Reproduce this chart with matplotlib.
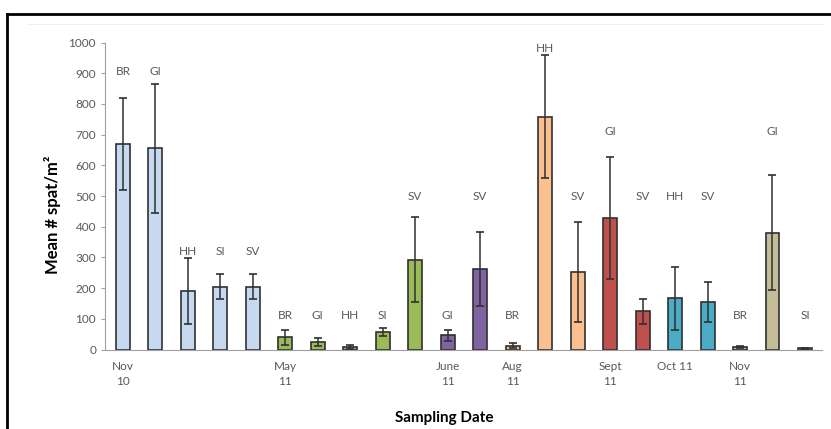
import numpy as np
import matplotlib
matplotlib.use('Agg')
import matplotlib.pyplot as plt
from matplotlib.lines import Line2D

plt.rcParams['font.family'] = ['Lato', 'DejaVu Sans']

# Site codes per bar (in sampling order)
sites = ['BR', 'GI', 'HH', 'SI', 'SV',
         'BR', 'GI', 'HH', 'SI', 'SV',
         'GI', 'SV',
         'BR', 'HH', 'SV',
         'GI', 'SV',
         'HH', 'SV',
         'BR', 'GI', 'SI']
means = [668, 655, 190, 205, 205,
         40, 26, 8, 57, 293,
         46, 262,
         13, 758, 253,
         428, 124,
         167, 155,
         7, 381, 4]
errors = [150, 210, 108, 40, 40,
          24, 13, 6, 12, 138,
          19, 120,
          9, 200, 162,
          199, 41,
          103, 65,
          3, 188, 2]
# sampling period of each bar -> colour group
groups = ['Nov10'] * 5 + ['May11'] * 5 + ['June11'] * 2 + ['Aug11'] * 3 + \
         ['Sept11'] * 2 + ['Oct11'] * 2 + ['Nov11'] * 3
group_colors = {'Nov10': '#c6d9f1', 'May11': '#9bbb59', 'June11': '#8064a2',
                'Aug11': '#fac090', 'Sept11': '#c0504d', 'Oct11': '#4bacc6',
                'Nov11': '#c4bd97'}
# height at which the site label sits (data units)
label_heights = [906, 906, 320, 320, 320,
                 112, 112, 112, 112, 500,
                 112, 500,
                 112, 982, 500,
                 709, 500,
                 500, 500,
                 112, 709, 112]
# date labels and the bar they sit under
date_labels = ['Nov\n10', 'May\n11', 'June\n11', 'Aug\n11', 'Sept\n11', 'Oct 11', 'Nov\n11']
date_bars = [0, 5, 10, 12, 15, 17, 19]

fig = plt.figure(figsize=(8.31, 4.29), dpi=100)
ax = fig.add_axes([0.1264, 0.1853, 0.8626, 0.7156])

x = np.arange(len(means))
colors = [group_colors[g] for g in groups]
ax.bar(x, means, width=0.43, color=colors, edgecolor='#303030', linewidth=1.2,
       yerr=errors, error_kw=dict(ecolor='#303030', elinewidth=1.1, capsize=3, capthick=1.2))

tc = '#595959'
for xi, s, h in zip(x, sites, label_heights):
    ax.text(xi, h, s, ha='center', va='center', fontsize=8.5, color=tc)

ax.set_xlim(-0.55, 21.52)
ax.set_ylim(0, 1000)
ax.set_yticks(range(0, 1001, 100))
ax.tick_params(axis='y', labelsize=8.5, labelcolor=tc, color='#a0a0a0', length=3)
ax.set_xticks(date_bars)
ax.set_xticklabels(date_labels, fontsize=8.5, color=tc, linespacing=1.45, va='top')
ax.tick_params(axis='x', length=0, pad=8)

for sp in ['top', 'right']:
    ax.spines[sp].set_visible(False)
ax.spines['left'].set_color('#a0a0a0')
ax.spines['bottom'].set_color('#a0a0a0')

fig.text(0.063, 0.499, 'Mean # spat/m²', rotation=90, ha='center', va='center',
         fontsize=12, fontweight='bold')
fig.text(0.534, 0.026, 'Sampling Date', ha='center', va='center', fontsize=11, fontweight='bold')

# outer frame (top and left visible)
fig.add_artist(Line2D([0.0085, 1.0], [0.967, 0.967], color='black', linewidth=2, transform=fig.transFigure))
fig.add_artist(Line2D([0.0085, 0.0085], [0.0, 0.967], color='black', linewidth=2, transform=fig.transFigure))
fig.add_artist(Line2D([0.033, 0.99], [0.944, 0.944], color='#f0f0f0', linewidth=0.8, transform=fig.transFigure))

fig.savefig('out.png', dpi=100)
